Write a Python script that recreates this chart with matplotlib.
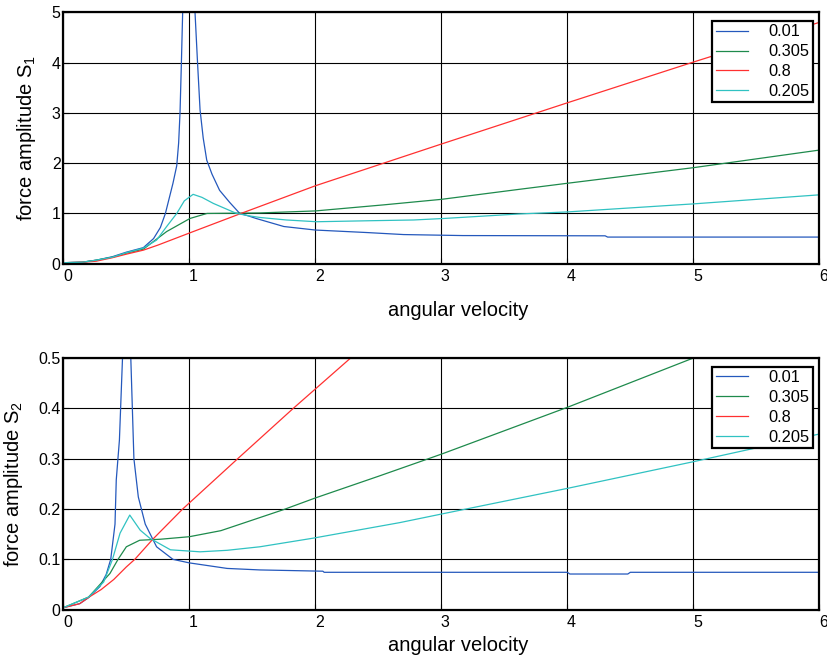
import matplotlib
matplotlib.use("Agg")
import matplotlib.pyplot as plt
import matplotlib.transforms as mtransforms

plt.rcParams['font.family'] = ['Liberation Sans', 'DejaVu Sans']
plt.rcParams['mathtext.fontset'] = 'custom'
plt.rcParams['mathtext.rm'] = 'Liberation Sans'

labels = ['0.01', '0.305', '0.8', '0.205']
colors = ['#2458bc', '#1e8a4c', '#ff3030', '#30c2c2']

# ---- top panel: S1 ----
x1_a = [0, 0.15, 0.26, 0.39, 0.5, 0.635, 0.716, 0.77, 0.81, 0.87, 0.90, 0.915, 0.926, 0.937,
        0.947, 0.955, 1.035, 1.045, 1.065, 1.085, 1.11, 1.138, 1.18, 1.24, 1.32, 1.40, 1.47,
        1.53, 1.75, 2.0, 2.41, 2.70, 3.17, 4.30, 4.32, 6.0]
y1_a = [0.02, 0.03, 0.07, 0.14, 0.23, 0.32, 0.50, 0.72, 1.0, 1.6, 1.95, 2.4, 3.0, 4.0,
        5.0, 6.5, 6.5, 5.0, 4.0, 3.06, 2.5, 2.06, 1.78, 1.46, 1.22, 1.0, 0.95,
        0.90, 0.74, 0.67, 0.62, 0.58, 0.56, 0.555, 0.53, 0.53]
x1_b = [0, 0.15, 0.26, 0.39, 0.5, 0.635, 0.82, 1.005, 1.14, 1.56, 2.0, 2.54, 3.0, 3.62, 4.0,
        5.0, 6.0]
y1_b = [0.02, 0.03, 0.07, 0.13, 0.21, 0.29, 0.64, 0.90, 1.0, 1.01, 1.05, 1.17, 1.28, 1.48,
        1.60, 1.91, 2.26]
x1_c = [0, 0.15, 0.26, 0.39, 0.5, 0.635, 0.75, 1.0, 1.41, 2.0, 3.0, 4.0, 5.0, 6.0]
y1_c = [0.02, 0.03, 0.05, 0.12, 0.19, 0.27, 0.37, 0.61, 1.0, 1.55, 2.38, 3.2, 4.01, 4.8]
x1_d = [0, 0.15, 0.26, 0.39, 0.5, 0.635, 0.74, 0.82, 0.90, 0.96, 1.03, 1.10, 1.19, 1.375,
        1.48, 1.56, 1.77, 2.01, 2.43, 2.78, 3.02, 3.62, 4.0, 5.0, 6.0]
y1_d = [0.02, 0.03, 0.07, 0.13, 0.22, 0.31, 0.47, 0.74, 1.0, 1.25, 1.38, 1.32, 1.2, 1.0,
        0.95, 0.92, 0.87, 0.835, 0.855, 0.87, 0.90, 0.99, 1.03, 1.19, 1.37]

# ---- bottom panel: S2 ----
x2_a = [0, 0.13, 0.2, 0.29, 0.34, 0.376, 0.41, 0.42, 0.445, 0.47, 0.475, 0.53, 0.535, 0.56,
        0.595, 0.65, 0.74, 0.87, 1.0, 1.30, 1.56, 2.06, 2.07, 4.0, 4.02, 4.48, 4.5, 6.0]
y2_a = [0.004, 0.012, 0.024, 0.046, 0.07, 0.1, 0.17, 0.258, 0.337, 0.503, 0.6, 0.6, 0.503,
        0.30, 0.224, 0.17, 0.125, 0.1, 0.093, 0.082, 0.079, 0.0765, 0.0743, 0.0743, 0.0709,
        0.0709, 0.0743, 0.0743]
x2_b = [0, 0.2, 0.37, 0.434, 0.50, 0.606, 0.77, 1.0, 1.25, 1.5, 1.75, 2.0, 2.5, 2.83, 3.0,
        4.0, 5.0, 5.1]
y2_b = [0.004, 0.025, 0.072, 0.1, 0.125, 0.138, 0.14, 0.145, 0.157, 0.178, 0.199, 0.222,
        0.265, 0.294, 0.309, 0.402, 0.50, 0.51]
x2_c = [0, 0.13, 0.21, 0.3, 0.4, 0.5, 0.567, 0.71, 0.947, 1.384, 1.825, 2.28, 2.4]
y2_c = [0.004, 0.012, 0.026, 0.04, 0.06, 0.085, 0.1, 0.14, 0.2, 0.3, 0.4, 0.5, 0.526]
x2_d = [0, 0.2, 0.32, 0.39, 0.45, 0.527, 0.61, 0.686, 0.85, 1.085, 1.3, 1.56, 1.98, 2.67,
        3.0, 4.0, 5.0, 6.0]
y2_d = [0.004, 0.025, 0.055, 0.1, 0.152, 0.188, 0.158, 0.142, 0.119, 0.115, 0.118, 0.125,
        0.142, 0.173, 0.19, 0.241, 0.294, 0.349]

xticks = [0, 1, 2, 3, 4, 5, 6]
xticklabels = ['0', '1', '2', '3', '4', '5', '6']
yticks1 = [0, 1, 2, 3, 4, 5]
yticklabels1 = ['0', '1', '2', '3', '4', '5']
yticks2 = [0, 0.1, 0.2, 0.3, 0.4, 0.5]
yticklabels2 = ['0', '0.1', '0.2', '0.3', '0.4', '0.5']

fig = plt.figure(figsize=(8.27, 6.58), dpi=100)
ax1 = fig.add_axes([0.0766, 0.5992, 0.9141, 0.3821])
ax2 = fig.add_axes([0.0766, 0.0734, 0.9141, 0.3825])

panels = [
    (ax1, [(x1_a, y1_a), (x1_b, y1_b), (x1_c, y1_c), (x1_d, y1_d)], (0, 5), yticks1,
     yticklabels1, r'force amplitude S$_\mathregular{1}$', -0.034, -0.148),
    (ax2, [(x2_a, y2_a), (x2_b, y2_b), (x2_c, y2_c), (x2_d, y2_d)], (0, 0.5), yticks2,
     yticklabels2, r'force amplitude S$_\mathregular{2}$', -0.051, -0.105),
]

offset = mtransforms.ScaledTranslation(4 / 100, 0, fig.dpi_scale_trans)

for ax, series, ylim, yt, ytl, ylab, ylx, xly in panels:
    for (xs, ys), lab, col in zip(series, labels, colors):
        ax.plot(xs, ys, color=col, lw=0.9, label=lab)
    ax.set_xlim(0, 6)
    ax.set_ylim(*ylim)
    ax.set_xticks(xticks)
    ax.set_xticklabels(xticklabels)
    ax.set_yticks(yt)
    ax.set_yticklabels(ytl)
    ax.grid(True, color='k', lw=0.8)
    ax.set_axisbelow(True)
    for s in ax.spines.values():
        s.set_linewidth(1.6)
        s.set_color('k')
    ax.tick_params(direction='in', length=4, width=0.8, labelsize=11.5, pad=4)
    ax.tick_params(axis='y', pad=2)
    for lbl in ax.get_xticklabels():
        lbl.set_transform(lbl.get_transform() + offset)
    ax.set_ylabel(ylab, fontsize=14.5)
    ax.yaxis.set_label_coords(ylx, 0.5)
    ax.set_xlabel('angular velocity', fontsize=14.5)
    ax.xaxis.set_label_coords(0.522, xly)
    ax.xaxis.label.set_va('top')
    leg = ax.legend(loc='upper right', bbox_to_anchor=(0.991, 0.965), fontsize=11.8,
                    fancybox=False, framealpha=1, edgecolor='k', handlelength=2.0,
                    handletextpad=1.2, labelspacing=0.3, borderpad=0.2, borderaxespad=0)
    leg.get_frame().set_linewidth(1.6)

fig.savefig('out.png', dpi=100)
